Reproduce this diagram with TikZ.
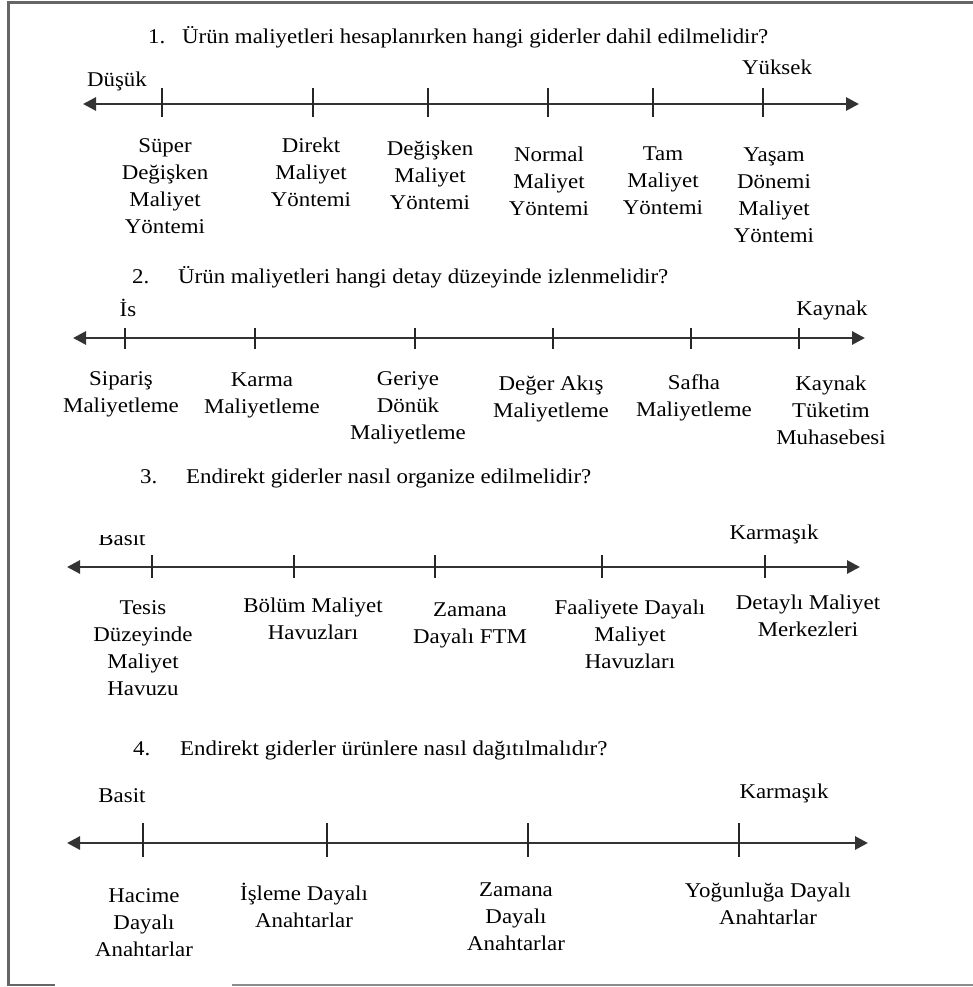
\documentclass[tikz,border=0pt]{standalone}
\usepackage{fontspec}
\setmainfont[FakeStretch=1.09]{Liberation Serif}
\usetikzlibrary{arrows.meta}
\begin{document}
\begin{tikzpicture}[x=1pt,y=-1pt,
  % multi-line labels sit on the baseline of their last line
  lbl/.style={font=\fontsize{21}{27}\selectfont, align=center, inner sep=0pt, anchor=base},
  ttl/.style={font=\fontsize{21}{27}\selectfont, inner sep=0pt, anchor=base west},
  axisline/.style={line width=2.8pt, draw=black!80,
    {Triangle[length=13pt,width=13pt]}-{Triangle[length=13pt,width=13pt]}},
  tickmark/.style={line width=1.7pt, draw=black!85},
  frameline/.style={line width=2.2pt, draw=black!60}]
\useasboundingbox (0,0) rectangle (973,987);

% open frame: top, left, and broken bottom edge
\draw[frameline] (973,2.5) -- (8.5,2.5) -- (8.5,985) -- (55,985);
\draw[frameline, draw=black!45] (232,985) -- (973,985);

% ---- 1. cost inclusion scale ----
\node[ttl] (n1) at (148,44) {1.};
\node[ttl] (q1) at (182,44) {Ürün maliyetleri hesaplanırken hangi giderler dahil edilmelidir?};
\node[lbl] (lo1) at (117,87) {Düşük};
\node[lbl] (hi1) at (777,75) {Yüksek};
\coordinate (a1l) at (83,104);
\coordinate (a1r) at (859,104);
\draw[axisline] (a1l) -- (a1r);
\foreach \x in {162,313,428,548,653,763} \draw[tickmark] (\x,88) -- (\x,117);
\node[lbl] (s1a) at (165,233) {Süper\\Değişken\\Maliyet\\Yöntemi};
\node[lbl] (s1b) at (311,206) {Direkt\\Maliyet\\Yöntemi};
\node[lbl] (s1c) at (430,209) {Değişken\\Maliyet\\Yöntemi};
\node[lbl] (s1d) at (549,215) {Normal\\Maliyet\\Yöntemi};
\node[lbl] (s1e) at (663,214) {Tam\\Maliyet\\Yöntemi};
\node[lbl] (s1f) at (774,242) {Yaşam\\Dönemi\\Maliyet\\Yöntemi};

% ---- 2. level of detail scale ----
\node[ttl] (n2) at (132,283) {2.};
\node[ttl] (q2) at (178,283) {Ürün maliyetleri hangi detay düzeyinde izlenmelidir?};
\node[lbl] (lo2) at (128,316) {İs};
\node[lbl] (hi2) at (832,315) {Kaynak};
\coordinate (a2l) at (73,338);
\coordinate (a2r) at (865,338);
\draw[axisline] (a2l) -- (a2r);
\foreach \x in {125,255,415,553,691,799} \draw[tickmark] (\x,328) -- (\x,349);
\node[lbl] (s2a) at (121,412) {Sipariş\\Maliyetleme};
\node[lbl] (s2b) at (262,413) {Karma\\Maliyetleme};
\node[lbl] (s2c) at (408,439) {Geriye\\Dönük\\Maliyetleme};
\node[lbl] (s2d) at (551,417) {Değer Akış\\Maliyetleme};
\node[lbl] (s2e) at (694,416) {Safha\\Maliyetleme};
\node[lbl] (s2f) at (831,444) {Kaynak\\Tüketim\\Muhasebesi};

% ---- 3. overhead organisation scale ----
\node[ttl] (n3) at (140,483) {3.};
\node[ttl] (q3) at (186,483) {Endirekt giderler nasıl organize edilmelidir?};
\begin{scope}
  \clip (80,535) rectangle (170,552);
  \node[lbl] (lo3) at (122,545) {Basit};
\end{scope}
\node[lbl] (hi3) at (774,539) {Karmaşık};
\coordinate (a3l) at (67,567);
\coordinate (a3r) at (860,567);
\draw[axisline] (a3l) -- (a3r);
\foreach \x in {152,294,435,602,765} \draw[tickmark] (\x,555) -- (\x,578);
\node[lbl] (s3a) at (143,695) {Tesis\\Düzeyinde\\Maliyet\\Havuzu};
\node[lbl] (s3b) at (313,639) {Bölüm Maliyet\\Havuzları};
\node[lbl] (s3c) at (470,643) {Zamana\\Dayalı FTM};
\node[lbl] (s3d) at (630,668) {Faaliyete Dayalı\\Maliyet\\Havuzları};
\node[lbl] (s3e) at (808,636) {Detaylı Maliyet\\Merkezleri};

% ---- 4. overhead allocation scale ----
\node[ttl] (n4) at (133,755) {4.};
\node[ttl] (q4) at (180,755) {Endirekt giderler ürünlere nasıl dağıtılmalıdır?};
\node[lbl] (lo4) at (122,802) {Basit};
\node[lbl] (hi4) at (784,798) {Karmaşık};
\coordinate (a4l) at (67,843);
\coordinate (a4r) at (868,843);
\draw[axisline] (a4l) -- (a4r);
\foreach \x in {143,327,528,739} \draw[tickmark] (\x,823) -- (\x,857);
\node[lbl] (s4a) at (144,956) {Hacime\\Dayalı\\Anahtarlar};
\node[lbl] (s4b) at (304,927) {İşleme Dayalı\\Anahtarlar};
\node[lbl] (s4c) at (516,950) {Zamana\\Dayalı\\Anahtarlar};
\node[lbl] (s4d) at (768,924) {Yoğunluğa Dayalı\\Anahtarlar};
\end{tikzpicture}
\end{document}
